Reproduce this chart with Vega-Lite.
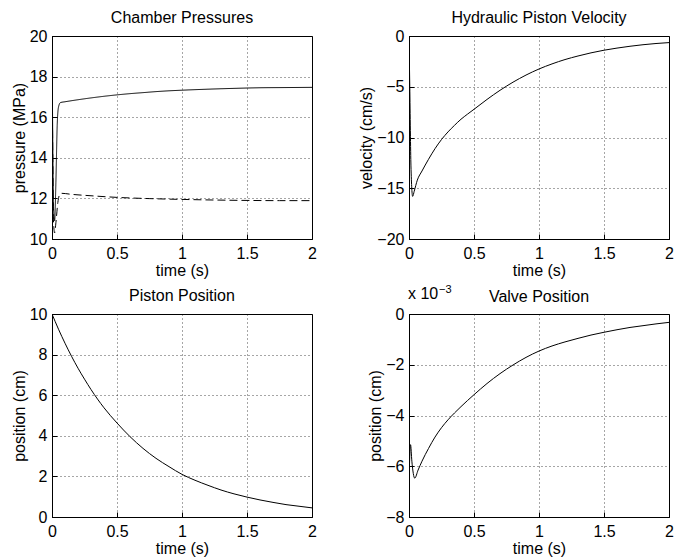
{
  "$schema": "https://vega.github.io/schema/vega-lite/v6.json",
  "background": "white",
  "padding": {"left": 10, "top": 9, "right": 5, "bottom": 5},
  "datasets": {
    "pressure": [
      {"t": 0, "p": 20, "chamber": "A"},
      {"t": 0.005, "p": 15.5, "chamber": "A"},
      {"t": 0.012, "p": 11.5, "chamber": "A"},
      {"t": 0.02, "p": 10.9, "chamber": "A"},
      {"t": 0.03, "p": 12.8, "chamber": "A"},
      {"t": 0.04, "p": 15.6, "chamber": "A"},
      {"t": 0.05, "p": 16.5, "chamber": "A"},
      {"t": 0.065, "p": 16.72, "chamber": "A"},
      {"t": 0.1, "p": 16.76, "chamber": "A"},
      {"t": 0.2, "p": 16.86, "chamber": "A"},
      {"t": 0.3, "p": 16.95, "chamber": "A"},
      {"t": 0.4, "p": 17.03, "chamber": "A"},
      {"t": 0.5, "p": 17.1, "chamber": "A"},
      {"t": 0.6, "p": 17.16, "chamber": "A"},
      {"t": 0.7, "p": 17.21, "chamber": "A"},
      {"t": 0.8, "p": 17.26, "chamber": "A"},
      {"t": 0.9, "p": 17.3, "chamber": "A"},
      {"t": 1.0, "p": 17.33, "chamber": "A"},
      {"t": 1.2, "p": 17.38, "chamber": "A"},
      {"t": 1.4, "p": 17.42, "chamber": "A"},
      {"t": 1.6, "p": 17.45, "chamber": "A"},
      {"t": 1.8, "p": 17.46, "chamber": "A"},
      {"t": 2.0, "p": 17.47, "chamber": "A"},
      {"t": 0, "p": 19.5, "chamber": "B"},
      {"t": 0.006, "p": 14.0, "chamber": "B"},
      {"t": 0.012, "p": 10.8, "chamber": "B"},
      {"t": 0.02, "p": 10.3, "chamber": "B"},
      {"t": 0.03, "p": 10.8, "chamber": "B"},
      {"t": 0.045, "p": 11.8, "chamber": "B"},
      {"t": 0.06, "p": 12.2, "chamber": "B"},
      {"t": 0.075, "p": 12.25, "chamber": "B"},
      {"t": 0.15, "p": 12.2, "chamber": "B"},
      {"t": 0.3, "p": 12.13, "chamber": "B"},
      {"t": 0.5, "p": 12.05, "chamber": "B"},
      {"t": 0.75, "p": 11.99, "chamber": "B"},
      {"t": 1.0, "p": 11.95, "chamber": "B"},
      {"t": 1.25, "p": 11.92, "chamber": "B"},
      {"t": 1.5, "p": 11.9, "chamber": "B"},
      {"t": 1.75, "p": 11.89, "chamber": "B"},
      {"t": 2.0, "p": 11.89, "chamber": "B"}
    ],
    "velocity": [
      {"t": 0, "v": 0},
      {"t": 0.006, "v": -5},
      {"t": 0.015, "v": -12.8},
      {"t": 0.028, "v": -15.8},
      {"t": 0.04, "v": -15.3},
      {"t": 0.064, "v": -14.2},
      {"t": 0.1, "v": -13.3},
      {"t": 0.15, "v": -12.15},
      {"t": 0.2, "v": -11.1},
      {"t": 0.25, "v": -10.2},
      {"t": 0.3, "v": -9.45},
      {"t": 0.35, "v": -8.8},
      {"t": 0.4, "v": -8.2},
      {"t": 0.45, "v": -7.7},
      {"t": 0.5, "v": -7.22},
      {"t": 0.6, "v": -6.25},
      {"t": 0.7, "v": -5.35},
      {"t": 0.8, "v": -4.55},
      {"t": 0.9, "v": -3.85},
      {"t": 1.0, "v": -3.25},
      {"t": 1.1, "v": -2.75},
      {"t": 1.2, "v": -2.32},
      {"t": 1.3, "v": -1.97},
      {"t": 1.4, "v": -1.66},
      {"t": 1.5, "v": -1.4},
      {"t": 1.6, "v": -1.19},
      {"t": 1.7, "v": -1.01},
      {"t": 1.8, "v": -0.86},
      {"t": 1.9, "v": -0.74},
      {"t": 2.0, "v": -0.65}
    ],
    "position": [
      {"t": 0, "x": 10},
      {"t": 0.05, "x": 9.25},
      {"t": 0.1, "x": 8.56},
      {"t": 0.15, "x": 7.92},
      {"t": 0.2, "x": 7.33},
      {"t": 0.25, "x": 6.79},
      {"t": 0.3, "x": 6.28},
      {"t": 0.35, "x": 5.81},
      {"t": 0.4, "x": 5.38},
      {"t": 0.5, "x": 4.63},
      {"t": 0.6, "x": 3.96},
      {"t": 0.7, "x": 3.38},
      {"t": 0.8, "x": 2.89},
      {"t": 0.9, "x": 2.48},
      {"t": 1.0, "x": 2.1},
      {"t": 1.1, "x": 1.81},
      {"t": 1.2, "x": 1.56},
      {"t": 1.3, "x": 1.33},
      {"t": 1.4, "x": 1.14},
      {"t": 1.5, "x": 0.98},
      {"t": 1.6, "x": 0.84},
      {"t": 1.7, "x": 0.72},
      {"t": 1.8, "x": 0.61},
      {"t": 1.9, "x": 0.53},
      {"t": 2.0, "x": 0.45}
    ],
    "valve": [
      {"t": 0, "z": -6.6},
      {"t": 0.012, "z": -5.15},
      {"t": 0.022, "z": -5.8},
      {"t": 0.044, "z": -6.47},
      {"t": 0.07, "z": -6.15},
      {"t": 0.1, "z": -5.8},
      {"t": 0.15, "z": -5.3},
      {"t": 0.2, "z": -4.85},
      {"t": 0.25, "z": -4.48},
      {"t": 0.3, "z": -4.17},
      {"t": 0.35, "z": -3.9},
      {"t": 0.4, "z": -3.65},
      {"t": 0.45, "z": -3.41},
      {"t": 0.5, "z": -3.18},
      {"t": 0.6, "z": -2.74},
      {"t": 0.7, "z": -2.35},
      {"t": 0.8, "z": -2.01},
      {"t": 0.9, "z": -1.71},
      {"t": 1.0, "z": -1.46},
      {"t": 1.1, "z": -1.26},
      {"t": 1.2, "z": -1.1},
      {"t": 1.3, "z": -0.96},
      {"t": 1.4, "z": -0.83},
      {"t": 1.5, "z": -0.72},
      {"t": 1.6, "z": -0.62},
      {"t": 1.7, "z": -0.53},
      {"t": 1.8, "z": -0.46},
      {"t": 1.9, "z": -0.39},
      {"t": 2.0, "z": -0.33}
    ],
    "notes": [{"t": 0, "tm": 1, "z": 0, "a": "x 10", "b": "−3", "title": "Valve Position"}]
  },
  "columns": 2,
  "spacing": {"row": 75, "column": 97},
  "bounds": "flush",
  "concat": [
    {
      "width": 260, "height": 203,
      "title": "Chamber Pressures",
      "data": {"name": "pressure"},
      "mark": {"type": "line", "color": "black", "strokeWidth": 1, "clip": true, "interpolate": "monotone"},
      "encoding": {
        "x": {"field": "t", "type": "quantitative", "scale": {"domain": [0, 2], "nice": false}, "axis": {"title": "time (s)", "values": [0, 0.5, 1, 1.5, 2]}},
        "y": {"field": "p", "type": "quantitative", "scale": {"domain": [10, 20], "nice": false, "zero": false}, "axis": {"title": "pressure (MPa)", "values": [10, 12, 14, 16, 18, 20]}},
        "detail": {"field": "chamber"},
        "strokeDash": {"field": "chamber", "type": "nominal", "scale": {"domain": ["A", "B"], "range": [[1, 0], [8, 4]]}, "legend": null}
      }
    },
    {
      "width": 260, "height": 203,
      "title": "Hydraulic Piston Velocity",
      "data": {"name": "velocity"},
      "mark": {"type": "line", "color": "black", "strokeWidth": 1, "clip": true, "interpolate": "monotone"},
      "encoding": {
        "x": {"field": "t", "type": "quantitative", "scale": {"domain": [0, 2], "nice": false}, "axis": {"title": "time (s)", "values": [0, 0.5, 1, 1.5, 2]}},
        "y": {"field": "v", "type": "quantitative", "scale": {"domain": [-20, 0], "nice": false}, "axis": {"title": "velocity (cm/s)", "values": [-20, -15, -10, -5, 0]}}
      }
    },
    {
      "width": 260, "height": 203,
      "title": "Piston Position",
      "data": {"name": "position"},
      "mark": {"type": "line", "color": "black", "strokeWidth": 1, "clip": true, "interpolate": "monotone"},
      "encoding": {
        "x": {"field": "t", "type": "quantitative", "scale": {"domain": [0, 2], "nice": false}, "axis": {"title": "time (s)", "values": [0, 0.5, 1, 1.5, 2]}},
        "y": {"field": "x", "type": "quantitative", "scale": {"domain": [0, 10], "nice": false}, "axis": {"title": "position (cm)", "values": [0, 2, 4, 6, 8, 10]}}
      }
    },
    {
      "width": 260, "height": 203,
      "layer": [
        {
          "data": {"name": "valve"},
          "mark": {"type": "line", "color": "black", "strokeWidth": 1, "clip": true, "interpolate": "monotone"},
          "encoding": {
            "x": {"field": "t", "type": "quantitative", "scale": {"domain": [0, 2], "nice": false}, "axis": {"title": "time (s)", "values": [0, 0.5, 1, 1.5, 2]}},
            "y": {"field": "z", "type": "quantitative", "scale": {"domain": [-8, 0], "nice": false}, "axis": {"title": "position (cm)", "values": [-8, -6, -4, -2, 0]}}
          }
        },
        {
          "data": {"name": "notes"},
          "mark": {"type": "text", "align": "center", "baseline": "alphabetic", "dy": -12, "font": "Liberation Sans", "fontSize": 16, "color": "black"},
          "encoding": {
            "x": {"field": "tm", "type": "quantitative"},
            "y": {"field": "z", "type": "quantitative"},
            "text": {"field": "title"}
          }
        },
        {
          "data": {"name": "notes"},
          "mark": {"type": "text", "align": "left", "baseline": "alphabetic", "dx": -1, "dy": -15, "font": "Liberation Sans", "fontSize": 16, "color": "black"},
          "encoding": {
            "x": {"field": "t", "type": "quantitative"},
            "y": {"field": "z", "type": "quantitative"},
            "text": {"field": "a"}
          }
        },
        {
          "data": {"name": "notes"},
          "mark": {"type": "text", "align": "left", "baseline": "alphabetic", "dx": 30, "dy": -21, "font": "Liberation Sans", "fontSize": 11, "color": "black"},
          "encoding": {
            "x": {"field": "t", "type": "quantitative"},
            "y": {"field": "z", "type": "quantitative"},
            "text": {"field": "b"}
          }
        }
      ]
    }
  ],
  "config": {
    "view": {"stroke": "black", "strokeWidth": 1},
    "axis": {
      "domainColor": "black",
      "domainWidth": 1,
      "tickColor": "black",
      "tickSize": -5,
      "labelFlush": false,
      "labelOverlap": false,
      "format": "~r",
      "grid": true,
      "gridColor": "black",
      "gridDash": [1, 3],
      "gridOpacity": 0.7,
      "labelFont": "Liberation Sans",
      "labelFontSize": 16,
      "labelColor": "black",
      "titleFont": "Liberation Sans",
      "titleFontSize": 16,
      "titleFontWeight": "normal",
      "titleColor": "black"
    },
    "axisX": {"labelPadding": 11, "titlePadding": 1},
    "axisY": {"labelPadding": 10, "titlePadding": 2},
    "title": {"font": "Liberation Sans", "fontSize": 16, "fontWeight": "normal", "color": "black", "offset": 2}
  }
}
